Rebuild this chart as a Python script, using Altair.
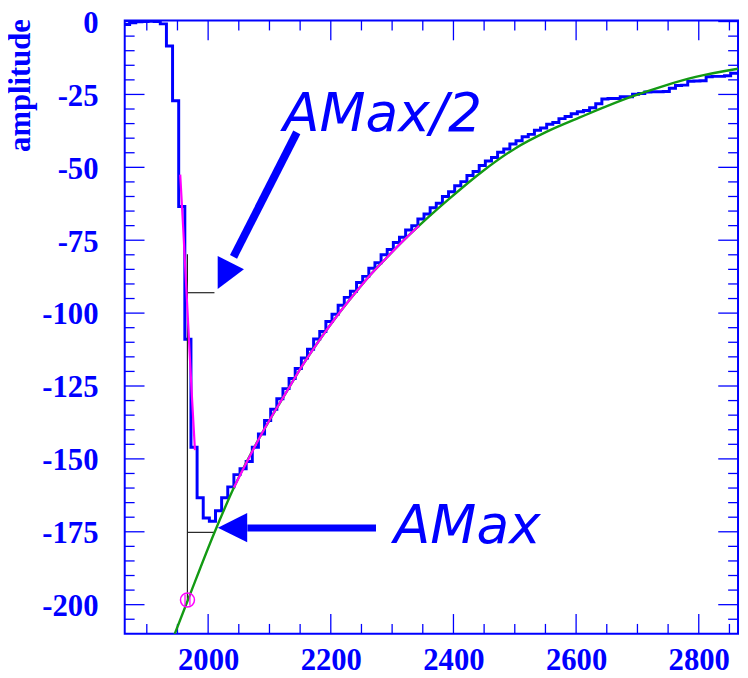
import altair as alt
import pandas as pd

BLUE = "#0000ff"
GREEN = "#139a13"
MAGENTA = "#ff00ff"

# ---------------- data ----------------
# histogram (bin width 10, first bin starts at 1862)
bin_start = 1862
bin_width = 10
hist_values = [
    -1.0, -0.4, -0.1, 0.0, 0.1, 0.0, -0.8, -8.4, -27.2, -63.4,
    -109.0, -146.0, -163.3, -170.3, -171.4, -167.8, -163.3, -159.6, -155.4, -153.4,
    -150.9, -146.0, -141.5, -136.8, -133.0, -129.4, -125.9, -122.4, -119.0, -115.4,
    -112.4, -108.9, -106.3, -102.9, -100.4, -97.3, -94.6, -92.5, -89.5, -87.4,
    -84.6, -82.7, -80.0, -78.2, -75.8, -74.0, -71.5, -70.0, -67.7, -66.0,
    -63.9, -62.3, -60.0, -58.4, -56.3, -54.9, -52.8, -51.4, -49.4, -47.8,
    -46.6, -44.8, -43.7, -42.0, -40.9, -39.5, -38.7, -37.3, -36.5, -35.2,
    -34.6, -33.3, -32.6, -31.6, -30.9, -30.5, -29.6, -28.2, -26.6, -26.4,
    -26.4, -25.8, -25.8, -24.9, -24.7, -24.2, -24.1, -24.1, -24.0, -22.9,
    -21.9, -21.8, -20.5, -20.4, -20.3, -18.9, -18.8, -18.8, -18.6, -17.7,
    -17.7,
]
hist_edges = [bin_start + bin_width * i for i in range(len(hist_values) + 1)]
hist_df = pd.DataFrame({"t": hist_edges, "amp": hist_values + [hist_values[-1]]})

# green fit
green_t = [1943, 1967, 2010, 2043, 2091, 2129, 2153, 2183, 2210, 2237, 2264, 2291,
           2317, 2344, 2392, 2446, 2500, 2554, 2607, 2634, 2687, 2741, 2795, 2864]
green_amp = [-211.4, -198.4, -175.4, -159.4, -140.0, -126.6, -118.2, -108.8, -101.0, -93.8,
             -87.0, -81.0, -75.4, -70.0, -61.0, -51.6, -43.6, -37.6, -32.8, -30.4,
             -26.0, -22.2, -19.0, -16.2]

# magenta fits
rise_t = [1954.5, 1959.5, 1968, 1973, 1978.5]
rise_amp = [-52.5, -71.5, -106.0, -126.5, -147.0]
tail_t = [2042, 2091, 2129, 2153, 2183, 2210, 2237, 2264, 2291, 2317, 2344]
tail_amp = [-159.8, -140.0, -126.6, -118.2, -108.8, -101.0, -93.8, -87.0, -81.0, -75.4, -70.0]

# marker (fit start)
marker_t = [1966.3]
marker_amp = [-198.4]

# black guide lines
guide_t1 = [1966.2, 1966.2, 1966.2]
guide_t2 = [1966.2, 2010.3, 2010.3]
guide_a1 = [-79.8, -93.0, -175.2]
guide_a2 = [-198.4, -93.0, -175.2]

# arrows
shaft_t1 = [2144.6, 2064.0]
shaft_a1 = [-38.0, -173.7]
shaft_t2 = [2041.4, 2273.7]
shaft_a2 = [-80.7, -173.7]
shaft_w = [8, 7]
head_t = [2026.3, 2039.8]
head_a = [-87.2, -173.6]
head_angle = [206.6, 270]

# annotation texts
note_text = ["AMax/2", "AMax"]
note_t = [2122.0, 2302.7]
note_a = [-37.4, -178.8]

# axis ticks
x_major = [2000, 2200, 2400, 2600, 2800]
x_minor = [1900, 1950, 2050, 2100, 2150, 2250, 2300, 2350, 2450, 2500, 2550,
           2650, 2700, 2750, 2850]
y_major = [0, -25, -50, -75, -100, -125, -150, -175, -200]
y_minor = [-5, -10, -15, -20, -30, -35, -40, -45, -55, -60, -65, -70, -80, -85, -90,
           -95, -105, -110, -115, -120, -130, -135, -140, -145, -155, -160, -165,
           -170, -180, -185, -190, -195, -205]

# ---------------- chart ----------------
W, H = 620, 620
xs = alt.Scale(domain=[1864, 2864], nice=False, zero=False)
ys = alt.Scale(domain=[-210, 0.35], nice=False, zero=False)
FONT = "Liberation Serif"

X_AXIS = alt.Axis(
    values=x_major, labelExpr="'' + datum.value", ticks=False, domain=False, grid=False,
    labelFont=FONT, labelFontSize=31, labelFontWeight="bold", labelColor=BLUE,
    labelPadding=12, labelFlush=False, title=None)
Y_AXIS = alt.Axis(
    values=y_major, labelExpr="'' + datum.value", ticks=False, domain=False, grid=False,
    labelFont=FONT, labelFontSize=31, labelFontWeight="bold", labelColor=BLUE,
    labelPadding=27, labelFlush=False, labelOffset=2,
    title="amplitude", titleFont=FONT, titleFontSize=31, titleFontWeight="bold",
    titleColor=BLUE, titleAngle=-90, titleX=-105, titleY=-2, titleAlign="right",
    titleBaseline="middle")


def xq(field):
    return alt.X(field, type="quantitative", scale=xs, axis=X_AXIS)


def yq(field):
    return alt.Y(field, type="quantitative", scale=ys, axis=Y_AXIS)


xmaj_df = pd.DataFrame({"v": x_major})
xmin_df = pd.DataFrame({"v": x_minor})
ymaj_df = pd.DataFrame({"v": y_major})
ymin_df = pd.DataFrame({"v": y_minor})

tick_style = dict(color=BLUE, strokeWidth=1.3)
ticks = [
    alt.Chart(xmaj_df).mark_rule(**tick_style).encode(x=xq("v"), y=alt.value(H), y2=alt.value(H - 20)),
    alt.Chart(xmaj_df).mark_rule(**tick_style).encode(x=xq("v"), y=alt.value(0), y2=alt.value(20)),
    alt.Chart(xmin_df).mark_rule(**tick_style).encode(x=xq("v"), y=alt.value(H), y2=alt.value(H - 10)),
    alt.Chart(xmin_df).mark_rule(**tick_style).encode(x=xq("v"), y=alt.value(0), y2=alt.value(10)),
    alt.Chart(ymaj_df).mark_rule(**tick_style).encode(y=yq("v"), x=alt.value(0), x2=alt.value(20)),
    alt.Chart(ymaj_df).mark_rule(**tick_style).encode(y=yq("v"), x=alt.value(W), x2=alt.value(W - 20)),
    alt.Chart(ymin_df).mark_rule(**tick_style).encode(y=yq("v"), x=alt.value(0), x2=alt.value(10)),
    alt.Chart(ymin_df).mark_rule(**tick_style).encode(y=yq("v"), x=alt.value(W), x2=alt.value(W - 10)),
]

hist = alt.Chart(hist_df).mark_line(
    interpolate="step-after", color=BLUE, strokeWidth=3, clip=True
).encode(x=xq("t"), y=yq("amp"))

guides_df = pd.DataFrame({"t1": guide_t1, "t2": guide_t2, "a1": guide_a1, "a2": guide_a2})
guides = alt.Chart(guides_df).mark_rule(color="#222222", strokeWidth=1.2).encode(
    x=xq("t1"), x2="t2", y=yq("a1"), y2="a2")

green = alt.Chart(pd.DataFrame({"t": green_t, "amp": green_amp})).mark_line(
    interpolate="monotone", color=GREEN, strokeWidth=2.4, clip=True
).encode(x=xq("t"), y=yq("amp"))

rise = alt.Chart(pd.DataFrame({"t": rise_t, "amp": rise_amp})).mark_line(
    interpolate="monotone", color=MAGENTA, strokeWidth=2.2
).encode(x=xq("t"), y=yq("amp"))

tail = alt.Chart(pd.DataFrame({"t": tail_t, "amp": tail_amp})).mark_line(
    interpolate="monotone", color=MAGENTA, strokeWidth=2.2
).encode(x=xq("t"), y=yq("amp"))

marker_df = pd.DataFrame({"t": marker_t, "amp": marker_amp})
marker = alt.Chart(marker_df).mark_point(
    shape="circle", size=200, filled=False, color=MAGENTA, strokeWidth=1.5, opacity=1
).encode(x=xq("t"), y=yq("amp"))
marker_in = alt.Chart(marker_df).mark_point(
    shape="M-0.35,-0.8L-0.35,0.8M0.35,-0.8L0.35,0.8", size=200, filled=False,
    color=MAGENTA, strokeWidth=1.3, opacity=1
).encode(x=xq("t"), y=yq("amp"))

shaft_df = pd.DataFrame({"t1": shaft_t1, "a1": shaft_a1, "t2": shaft_t2, "a2": shaft_a2, "w": shaft_w})
shafts = alt.Chart(shaft_df).mark_rule(color=BLUE).encode(
    x=xq("t1"), x2="t2", y=yq("a1"), y2="a2",
    strokeWidth=alt.StrokeWidth("w:Q", scale=None, legend=None))

head_df = pd.DataFrame({"t": head_t, "amp": head_a, "ang": head_angle})
heads = alt.Chart(head_df).mark_point(
    shape="M0,-1L1,1L-1,1Z", size=880, filled=True, color=BLUE, opacity=1, strokeWidth=0
).encode(x=xq("t"), y=yq("amp"), angle=alt.Angle("ang:Q", scale=None))

notes = alt.Chart(pd.DataFrame({"txt": note_text, "t": note_t, "amp": note_a})).mark_text(
    align="left", baseline="alphabetic", font="DejaVu Sans", fontStyle="italic",
    fontSize=54, color=BLUE
).encode(x=xq("t"), y=yq("amp"), text="txt:N")

chart = alt.layer(
    *ticks, hist, guides, green, rise, tail, marker, marker_in, shafts, heads, notes
).properties(
    width=W, height=H,
    autosize=alt.AutoSizeParams(type="none"),
    padding={"left": 118, "top": 9, "right": 2, "bottom": 42},
    background="white",
).configure_view(
    stroke=BLUE, strokeWidth=2
)

chart.save("out.html", embed_options={"renderer": "svg", "actions": False})
